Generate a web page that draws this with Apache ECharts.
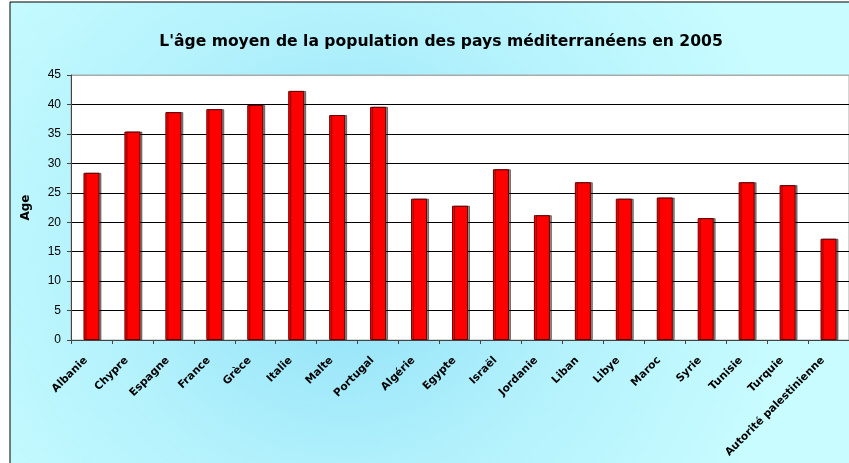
<!DOCTYPE html>
<html>
<head>
<meta charset="utf-8">
<script src="https://cdn.jsdelivr.net/npm/echarts@6/dist/echarts.min.js"></script>
<style>
html,body{margin:0;padding:0;background:#fff;}
#chart{width:849px;height:463px;}
</style>
</head>
<body>
<div id="chart"></div>
<script>
var titleText = "L'âge moyen de la population des pays méditerranéens en 2005";
var yAxisName = "Age";
var categories = ["Albanie","Chypre","Espagne","France","Grèce","Italie","Malte","Portugal","Algérie","Egypte","Israël","Jordanie","Liban","Libye","Maroc","Syrie","Tunisie","Turquie","Autorité palestinienne"];
var ages = [28.4, 35.4, 38.7, 39.2, 39.9, 42.3, 38.2, 39.6, 24.0, 22.8, 29.0, 21.2, 26.8, 24.0, 24.2, 20.7, 26.8, 26.3, 17.2];
var yMin = 0, yMax = 45, yStep = 5;

var chart = echarts.init(document.getElementById('chart'), null, {renderer:'canvas'});
var font = '"Liberation Sans", Arial, sans-serif';
var wideFont = '"DejaVu Sans", Verdana, sans-serif';
var gridColors = ['#000','#000','#000','#000','#000','#000','#000','#000','#000','#aaa'];
chart.setOption({
  animation: false,
  graphic: [{
    type: 'rect',
    z: -10,
    silent: true,
    shape: {x: 10, y: 2, width: 880, height: 500},
    style: {
      fill: {
        type: 'radial', x: 0.38, y: 0.5, r: 0.9,
        colorStops: [
          {offset: 0, color: '#8CDFF8'},
          {offset: 0.5, color: '#B2F1FC'},
          {offset: 1, color: '#C8FCFF'}
        ]
      },
      stroke: '#000', lineWidth: 1
    }
  }],
  title: {
    text: titleText,
    left: 436, top: 29, textAlign: 'center',
    textStyle: {fontFamily: wideFont, fontSize: 15.6, fontWeight: 'bold', color: '#000'}
  },
  grid: {left: 71, top: 75, width: 781, height: 265, show: true, backgroundColor: '#fff', borderColor: '#aaa', borderWidth: 1},
  xAxis: {
    type: 'category',
    data: categories,
    boundaryGap: true,
    axisLine: {lineStyle: {color: '#444', width: 1}},
    axisTick: {show: true, length: 4, inside: false, alignWithLabel: false, lineStyle: {color: '#444'}},
    axisLabel: {
      interval: 0, rotate: 45, margin: 13,
      padding: [0, 8, 0, 0],
      fontFamily: wideFont, fontSize: 10.7, fontWeight: 'bold', color: '#000'
    },
    splitLine: {show: false}
  },
  yAxis: {
    type: 'value',
    min: yMin, max: yMax, interval: yStep,
    name: yAxisName,
    nameLocation: 'middle',
    nameGap: 39,
    nameRotate: 90,
    nameTextStyle: {fontFamily: wideFont, fontSize: 12, fontWeight: 'bold', color: '#000'},
    axisLine: {show: true, lineStyle: {color: '#444', width: 1}},
    axisTick: {show: true, length: 4, lineStyle: {color: '#444'}},
    axisLabel: {fontFamily: font, fontSize: 12, color: '#000', margin: 10},
    splitLine: {show: true, lineStyle: {color: gridColors, width: 1}}
  },
  series: [{
    type: 'bar',
    data: ages,
    barWidth: 16,
    itemStyle: {
      color: '#FF0000',
      borderColor: '#6B0000',
      borderWidth: 1,
      shadowColor: 'rgba(0,0,0,0.45)',
      shadowOffsetX: 2,
      shadowOffsetY: 0,
      shadowBlur: 0
    }
  }]
});
</script>
</body>
</html>
